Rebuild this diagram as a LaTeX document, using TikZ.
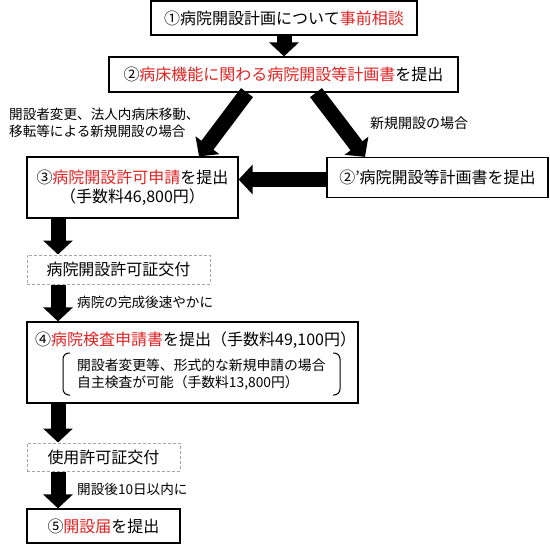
\documentclass[tikz,border=0pt]{standalone}
\usepackage{fontspec}
\setmainfont{Noto Sans CJK JP}
\usetikzlibrary{arrows.meta}
\definecolor{jred}{RGB}{225,35,35}
\definecolor{dgray}{RGB}{165,165,165}
\begin{document}
\begin{tikzpicture}[x=1pt,y=-1pt,
  box/.style={draw=black,line width=1.2pt,inner sep=0pt,align=center,font=\fontsize{16}{19}\selectfont},
  dbox/.style={draw=dgray,line width=1pt,dash pattern=on 3pt off 2pt,inner sep=0pt,align=center,font=\fontsize{16}{19}\selectfont},
  btxt/.style={inner sep=0pt,font=\fontsize{16}{19}\selectfont},
  lab/.style={inner sep=0pt,anchor=west,align=left,font=\fontsize{13.6}{16.5}\selectfont},
  itxt/.style={inner sep=0pt,anchor=west,align=left,font=\fontsize{13.8}{17}\selectfont},
  bigarrow/.style={line width=15pt,-{Triangle[width=29pt 0 0,length=14pt 0 0]}},
  brk/.style={draw=black,line width=1pt,rounded corners=6pt}
]
\useasboundingbox (0,0) rectangle (550,546);
\fill[white] (0,0) rectangle (550,546);
\coordinate (col) at (58,0);

\node[box,minimum width=266pt,minimum height=34pt] (b1) at (284,18)
  {①病院開設計画について\textcolor{jred}{事前相談}};
\node[box,minimum width=349pt,minimum height=35pt] (b2) at (283.5,74.5)
  {②\textcolor{jred}{病床機能に関わる病院開設等計画書}を提出};
\node[box,minimum width=211pt,minimum height=61pt] (b3) at (132.5,187.5)
  {③\textcolor{jred}{病院開設許可申請}を提出\\（手数料46,800円）};
\node[box,minimum width=221pt,minimum height=40pt] (b2p) at (437.5,177.5)
  {②'病院開設等計画書を提出};
\node[dbox,minimum width=183pt,minimum height=29pt] (d1) at (118.5,269.5)
  {病院開設許可証交付};
\node[box,minimum width=331pt,minimum height=81pt] (b4) at (192.5,362.5) {};
\node[btxt,anchor=west] (t4) at (35,340)
  {④\textcolor{jred}{病院検査申請書}を提出（手数料49,100円）};
\node[itxt] (t4b) at (77,374.5)
  {開設者変更等、形式的な新規申請の場合\\自主検査が可能（手数料13,800円）};
\draw[brk] (70,353) -- (63,353) -- (63,395) -- (70,395);
\draw[brk] (333,353) -- (340,353) -- (340,395) -- (333,395);
\node[dbox,minimum width=153pt,minimum height=28pt] (d2) at (103.5,457)
  {使用許可証交付};
\node[box,minimum width=153pt,minimum height=34pt] (b5) at (103.5,526)
  {⑤\textcolor{jred}{開設届}を提出};

\node[lab] (l1) at (9,123) {開設者変更、法人内病床移動、\\移転等による新規開設の場合};
\node[lab,font=\fontsize{14}{17}\selectfont] (l2) at (370,123) {新規開設の場合};
\node[lab] (l3) at (77,302) {病院の完成後速やかに};
\node[lab] (l4) at (77,489) {開設後10日以内に};

\coordinate (hs) at ([yshift=-2pt]b2p.west);
\draw[bigarrow] (b1.south) -- (b1.south |- b2.north);
\draw[bigarrow] ([xshift=-36.5pt]b2.south) -- ([xshift=66.5pt]b3.north);
\draw[bigarrow] ([xshift=32.5pt]b2.south) -- ([xshift=-72.5pt]b2p.north);
\draw[bigarrow] (hs) -- (b3.east |- hs);
\draw[bigarrow] (b3.south -| col) -- (d1.north -| col);
\draw[bigarrow] (d1.south -| col) -- (b4.north -| col);
\draw[bigarrow] (b4.south -| col) -- (d2.north -| col);
\draw[bigarrow] (d2.south -| col) -- (b5.north -| col);
\end{tikzpicture}
\end{document}
